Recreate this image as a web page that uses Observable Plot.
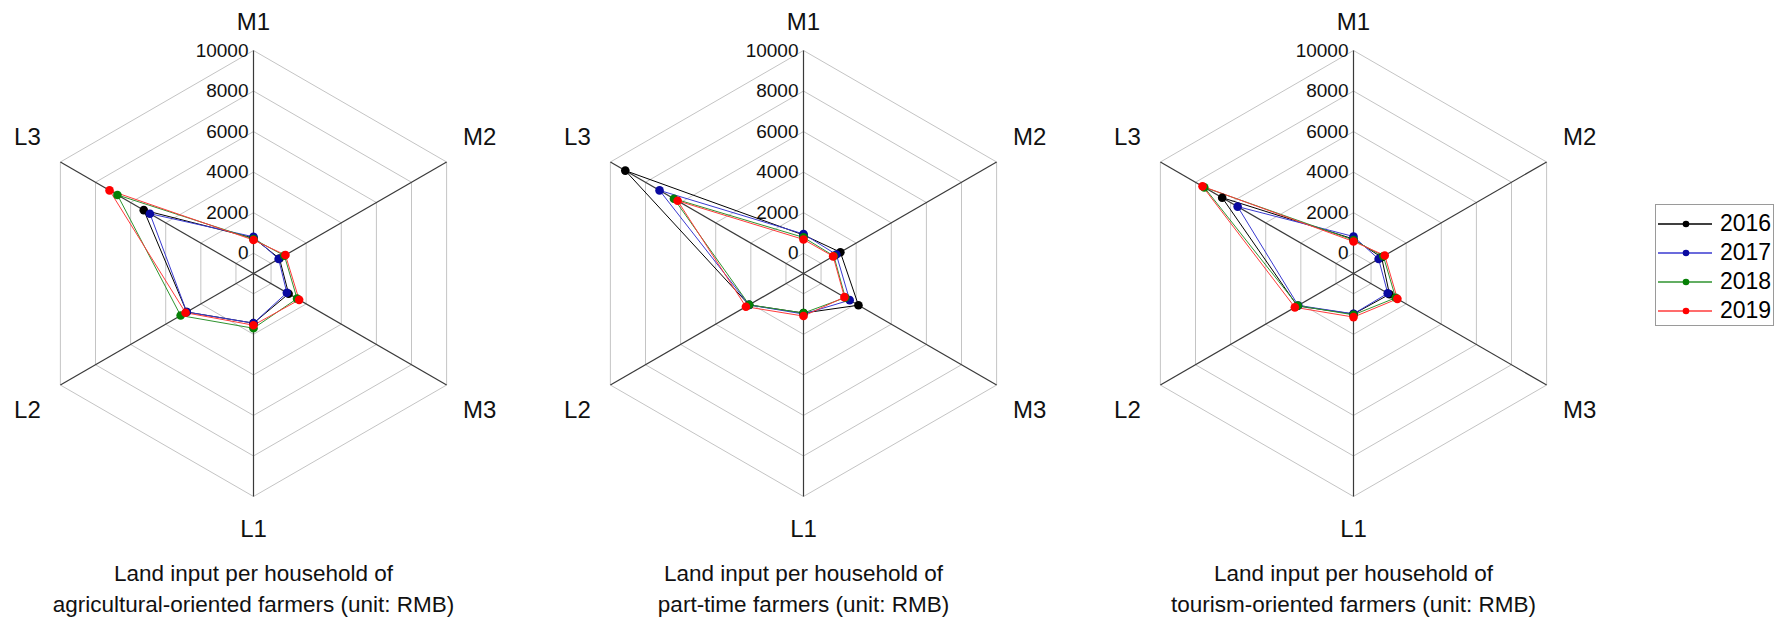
<!DOCTYPE html>
<html><head><meta charset="utf-8">
<script src="https://cdn.jsdelivr.net/npm/d3@7"></script>
<script src="https://cdn.jsdelivr.net/npm/@observablehq/plot@0.6"></script>
<style>
body{margin:0;background:#fff;font-family:"Liberation Sans",Arial,sans-serif;}
#wrap{position:relative;width:1776px;height:620px;display:flex;gap:44px;}
#legend{position:absolute;left:1655px;top:204px;width:117px;height:120px;border:1px solid #9a9a9a;background:#fff;}
.row{position:absolute;left:0;height:29px;display:flex;align-items:center;}
.row span{font-size:23px;margin-left:6px;color:#000;}
</style></head><body><div id="wrap"></div>
<script>
// ---- data ----
const axisNames = ["M1", "M2", "M3", "L1", "L2", "L3"];
const axisAngles = [90, 30, -30, -90, -150, 150];
const years = ["2016", "2017", "2018", "2019"];
const ringTicks = [0, 2000, 4000, 6000, 8000, 10000];
const radialMin = -1000, radialMax = 10000;
const titles = [
  "Land input per household of\nagricultural-oriented farmers (unit: RMB)",
  "Land input per household of\npart-time farmers (unit: RMB)",
  "Land input per household of\ntourism-oriented farmers (unit: RMB)"
];
// values per year in axis order M1, M2, M3, L1, L2, L3
const agricultural = [
  [750, 480, 1000, 1450, 2800, 5250],
  [810, 430, 900, 1450, 2800, 4900],
  [700, 760, 1480, 1700, 3150, 6750],
  [650, 820, 1600, 1550, 2870, 7200]
];
const partTime = [
  [900, 1100, 2130, 950, 2100, 9150],
  [950, 870, 1630, 1000, 2100, 7200],
  [780, 730, 1380, 950, 2090, 6380],
  [680, 690, 1330, 1100, 2280, 6170]
];
const tourism = [
  [700, 600, 1050, 1000, 2200, 6480],
  [825, 430, 950, 990, 2150, 5600],
  [650, 700, 1400, 1040, 2170, 7500],
  [580, 780, 1500, 1150, 2340, 7600]
];
const lineColors = ["#000000", "#3a3ad0", "#2f932f", "#ff3b3b"];
const dotColors = ["#000000", "#0a0aa0", "#068006", "#ff0000"];

// ---- layout ----
const W = 506, H = 620, CX = 253, CY = 273, RPX = 223;
const k = RPX / (radialMax - radialMin); // px per unit
const rad = a => a * Math.PI / 180;
const px = v => v / k;
const pt = (v, ang) => {
  const r = v - radialMin;
  return [r * Math.cos(rad(ang)), r * Math.sin(rad(ang))];
};

function radar(values, title) {
  const rings = ringTicks.flatMap(t => [...axisAngles, axisAngles[0]].map((a, i) => {
    const [x, y] = pt(t, a); return {t, i, x, y};
  }));
  const spokes = axisAngles.map(a => { const [x, y] = pt(radialMax, a); return {x, y}; });
  const labels = axisNames.map((name, i) => {
    const a = axisAngles[i];
    const [x, y] = pt(radialMax, a);
    const c = Math.cos(rad(a)), s = Math.sin(rad(a));
    let ox = Math.abs(c) > 0.1 ? Math.sign(c) * 33 : 0;
    let oy = Math.abs(c) < 0.1 ? (s > 0 ? 28 : -33) : Math.sign(s) * 25;
    return {name, x: x + px(ox), y: y + px(oy)};
  });
  const series = values.flatMap((row, yi) => [...row, row[0]].map((v, i) => {
    const [x, y] = pt(v, axisAngles[i % 6]); return {yi, i, x, y, last: i === 6};
  }));
  const dots = series.filter(d => !d.last);
  return Plot.plot({
    width: W, height: H, margin: 0,
    style: {fontFamily: "Liberation Sans, Arial, sans-serif", background: "#fff"},
    x: {domain: [-px(CX), px(W - CX)], axis: null},
    y: {domain: [-px(H - CY), px(CY)], axis: null},
    color: {type: "identity"},
    marks: [
      Plot.line(rings, {x: "x", y: "y", z: "t", stroke: "#c4c4c4", strokeWidth: 1}),
      Plot.link(spokes, {x1: () => 0, y1: () => 0, x2: "x", y2: "y", stroke: "#3a3a3a", strokeWidth: 1.2}),
      Plot.text(ringTicks, {x: () => 0, y: t => t - radialMin, text: t => String(t), textAnchor: "end", dx: -5, fontSize: 19, fill: "#111"}),
      Plot.text(labels, {x: "x", y: "y", text: "name", fontSize: 24, fill: "#111"}),
      Plot.line(series, {x: "x", y: "y", z: "yi", stroke: d => lineColors[d.yi], strokeWidth: 1}),
      Plot.dot(dots, {x: "x", y: "y", r: 4.3, fill: d => dotColors[d.yi], stroke: "none"}),
      Plot.text([title], {x: () => 0, y: () => -px(586 - CY), text: d => d, fontSize: 22.5, lineHeight: 1.38, fill: "#111"})
    ]
  });
}

const wrap = document.getElementById("wrap");
[agricultural, partTime, tourism].forEach((vals, i) => wrap.appendChild(radar(vals, titles[i])));

// legend
const legend = document.createElement("div");
legend.id = "legend";
years.forEach((yr, i) => {
  const row = document.createElement("div");
  row.className = "row";
  row.style.top = (4 + i * 29) + "px";
  row.innerHTML = `<svg width="58" height="12"><line x1="2" y1="6" x2="56" y2="6" stroke="${lineColors[i]}" stroke-width="1.3"/><circle cx="30" cy="6" r="3.3" fill="${dotColors[i]}"/></svg><span>${yr}</span>`;
  legend.appendChild(row);
});
wrap.appendChild(legend);
</script></body></html>
